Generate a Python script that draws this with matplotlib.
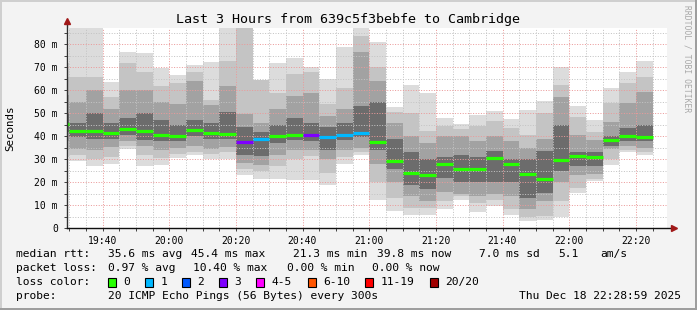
import matplotlib
matplotlib.use("Agg")
import matplotlib.pyplot as plt
from matplotlib.patches import Rectangle
from matplotlib.lines import Line2D
from matplotlib.ticker import MultipleLocator
import numpy as np

# ---------------- data ----------------
slot_start = ["19:25", "19:30", "19:35", "19:40", "19:45", "19:50", "19:55",
              "20:00", "20:05", "20:10", "20:15", "20:20", "20:25", "20:30",
              "20:35", "20:40", "20:45", "20:50", "20:55", "21:00", "21:05",
              "21:10", "21:15", "21:20", "21:25", "21:30", "21:35", "21:40",
              "21:45", "21:50", "21:55", "22:00", "22:05", "22:10", "22:15",
              "22:20"]

# smoke envelope (ms): outermost -> innermost above and below the median
ping_max = [72, 90, 90, 63.6, 76.6, 76.2, 69.6, 66.5, 71, 72.3, 90, 90, 64.6, 71.9,
            74.2, 70.3, 65.0, 78.7, 90, 80.9, 52.7, 62.3, 58.7, 48.1, 45.2, 49.3,
            51.2, 47.5, 51.4, 55.3, 70, 53.2, 47.1, 60.9, 68.1, 72.7]
ping_hi3 = [66, 66, 66, 57, 72, 68, 62, 63, 68, 56, 72.7, 90, 64.6, 59,
            67, 68, 54, 61, 83.5, 70.3, 50.6, 50, 42.3, 44.5, 43, 44.5,
            46.7, 43.8, 40.4, 50, 62.3, 48.5, 42, 54.6, 63, 66]
ping_hi2 = [58, 55, 60, 52, 60, 60, 55, 54, 64, 53.5, 62, 49.6, 46, 52,
            57.5, 59, 49, 52, 76.8, 64, 46, 40, 37, 40, 40, 38,
            40, 38, 35, 38.7, 57.2, 40.6, 38.4, 46.4, 54.3, 59.4]
ping_hi1 = [50, 46, 50, 46, 48, 50, 47, 45, 47, 46, 50.6, 44, 42, 45,
            48, 46, 44, 46, 53, 55, 39, 33, 30, 31, 32, 31,
            33.5, 30, 30, 33.5, 45, 33, 33.3, 40, 43.5, 45]
median_rtt = [45.4, 42.2, 42.4, 41.3, 43.2, 42.4, 40.7, 40.1, 42.7, 41.3, 40.9, 37.7,
              38.7, 40.3, 40.7, 40.4, 39.6, 40.7, 41.5, 37.4, 29.4, 24.2, 23.0, 28.1,
              25.9, 25.6, 30.4, 28.0, 23.7, 21.3, 29.7, 31.4, 31.1, 38.4, 40.3, 39.8]
ping_lo1 = [42, 39.5, 39, 39, 40.5, 38.5, 38, 38, 40, 39, 39, 32, 31.5, 37,
            38.5, 38, 34, 38.5, 39.5, 34, 26, 19, 17, 22, 20, 20,
            20, 20, 13, 15.5, 25, 27, 27, 36, 38, 38]
ping_lo2 = [38, 34.5, 34, 35.5, 38, 36, 34, 35, 36, 34.5, 35.5, 28.5, 27.5, 32,
            34, 34, 30, 34, 35, 28, 20, 14, 12, 16, 15, 14,
            15, 14, 8.5, 12, 20, 23, 23.5, 34.5, 36, 35]
ping_lo3 = [34, 31.7, 30, 31, 36, 32, 30.5, 32.5, 33, 32.5, 33, 26, 25, 27,
            30, 31.5, 24, 31, 33, 20, 13, 9, 9, 12, 14, 11,
            12.5, 8.5, 5, 5.5, 12, 17.5, 21.5, 30, 34, 33]
ping_min = [31, 29.3, 27.2, 28.0, 34.3, 27.2, 27.5, 30.7, 31.9, 30.1, 30.0, 23.2, 21.4,
            21.4, 21.0, 21.0, 18.8, 28.0, 31.9, 12.3, 7.7, 5.8, 5.8, 8.5, 12.3, 7.0,
            9.7, 6.0, 3.0, 3.4, 5.0, 15.2, 20.6, 27.5, 33.3, 31.9]

# lost pings per slot (index into loss legend)
loss_class = [0, 0, 0, 0, 0, 0, 0, 0, 0, 0, 0, 3, 1, 0, 0, 3, 1, 1, 1, 0,
              0, 0, 0, 0, 0, 0, 0, 0, 0, 0, 0, 0, 0, 0, 0, 0]

loss_labels = ["0", "1", "2", "3", "4-5", "6-10", "11-19", "20/20"]
loss_colors = ["#26ff00", "#00b8ff", "#0059ff", "#7e00ff", "#ff00ff",
               "#ff5500", "#ff0000", "#a10000"]

x_tick_labels = ["19:40", "20:00", "20:20", "20:40", "21:00", "21:20",
                 "21:40", "22:00", "22:20"]
y_tick_values = [0, 10, 20, 30, 40, 50, 60, 70, 80]
y_tick_labels = ["0", "10 m", "20 m", "30 m", "40 m", "50 m", "60 m", "70 m", "80 m"]

title = "Last 3 Hours from 639c5f3bebfe to Cambridge"

# ---------------- helpers ----------------
W, H = 697, 310
MONO = "DejaVu Sans Mono"


def fx(px):
    return px / W


def fy(py):
    return 1 - py / H


def to_min(t):
    h, m = t.split(":")
    return (int(h) - 19) * 60 + int(m)


starts = np.array([to_min(t) for t in slot_start], dtype=float)
SLOT = 5.0

fig = plt.figure(figsize=(W / 100, H / 100), dpi=100)
fig.patch.set_facecolor("#f3f3f3")

ax = fig.add_axes([fx(67), fy(228.3), 600 / W, (228.3 - 28) / H])
ax.set_facecolor("white")
x0 = 29.35
ax.set_xlim(x0, x0 + 180)
ax.set_ylim(0, 87.1)

# smoke bands
shades = ["#dcdcdc", "#c4c4c4", "#a2a2a2", "#6c6c6c"]
bands = [
    (ping_hi3, ping_max, shades[0]), (ping_min, ping_lo3, shades[0]),
    (ping_hi2, ping_hi3, shades[1]), (ping_lo3, ping_lo2, shades[1]),
    (ping_hi1, ping_hi2, shades[2]), (ping_lo2, ping_lo1, shades[2]),
    (ping_lo1, ping_hi1, shades[3]),
]
for lo, hi, c in bands:
    lo = np.array(lo, float)
    hi = np.array(hi, float)
    ax.bar(starts, hi - lo, bottom=lo, width=SLOT, align="edge",
           color=c, linewidth=0, zorder=1)

# median line coloured by loss
med_cols = [loss_colors[i] for i in loss_class]
ax.hlines(median_rtt, starts, starts + SLOT, colors=med_cols,
          linewidth=2.3, zorder=4)

# grid
ax.yaxis.set_major_locator(MultipleLocator(10))
ax.yaxis.set_minor_locator(MultipleLocator(5))
ax.xaxis.set_minor_locator(MultipleLocator(5))
ax.set_xticks([to_min(t) for t in x_tick_labels])
ax.set_xticklabels(x_tick_labels)
ax.set_yticks(y_tick_values)
ax.set_yticklabels(y_tick_labels)
ax.set_axisbelow(False)
ax.grid(which="minor", color="#c4c4c4", linestyle=(0, (1, 1.6)), linewidth=0.72)
ax.grid(which="major", color="#eb9a9a", linestyle=(0, (1, 1.6)), linewidth=0.72)

for lab in ax.get_xticklabels() + ax.get_yticklabels():
    lab.set_fontfamily(MONO)
    lab.set_fontsize(7)
ax.tick_params(axis="both", which="both", length=2.5, width=0.7, color="#404040",
               direction="out")
ax.tick_params(axis="x", pad=3)
ax.tick_params(axis="y", pad=4)

for s in ax.spines.values():
    s.set_visible(False)

# axis lines with arrows
ax.add_line(Line2D([0, 0], [0, 1.02], transform=ax.transAxes, color="#303030",
                   linewidth=1.0, clip_on=False, zorder=5))
ax.add_line(Line2D([0, 1.008], [0, 0], transform=ax.transAxes, color="#101010",
                   linewidth=1.0, clip_on=False, zorder=5))
ax.plot([0], [1.035], marker="^", markersize=4.5, color="#a01818",
        transform=ax.transAxes, clip_on=False, zorder=6)
ax.plot([1.012], [0], marker=">", markersize=4.5, color="#a01818",
        transform=ax.transAxes, clip_on=False, zorder=6)

# title and labels
fig.text(fx(348.5), fy(19), title, family=MONO, fontsize=9.6, ha="center", va="center")
fig.text(fx(10.5), fy(128), "Seconds", family=MONO, fontsize=7.8, rotation=90,
         ha="center", va="center")
fig.text(fx(687), fy(59), "RRDTOOL / TOBI OETIKER", family=MONO, fontsize=5.8,
         rotation=270, ha="center", va="center", color="#a8a8a8")

# legend
LS = 8.1
rows = [
    (254, [(16, "median rtt:"), (107.6, "35.6 ms avg"), (191, "45.4 ms max"),
           (293, "21.3 ms min"), (377, "39.8 ms now"), (479, "7.0 ms sd"),
           (558, "5.1"), (600, "am/s")]),
    (268, [(16, "packet loss:"), (107.6, "0.97 % avg"), (193, "10.40 % max"),
           (287, "0.00 % min"), (372, "0.00 % now")]),
    (282, [(16, "loss color:")]),
    (296, [(16, "probe:"), (107.6, "20 ICMP Echo Pings (56 Bytes) every 300s")]),
]
for y, items in rows:
    for x, s in items:
        fig.text(fx(x), fy(y), s, family=MONO, fontsize=LS, ha="left", va="center")
fig.text(fx(681), fy(296), "Thu Dec 18 22:28:59 2025", family=MONO, fontsize=LS,
         ha="right", va="center")

box_x = [108, 145.3, 182, 219, 256.4, 307.6, 365, 430]
for bx, lab, col in zip(box_x, loss_labels, loss_colors):
    fig.add_artist(Rectangle((fx(bx), fy(282 + 4.5)), 8 / W, 9 / H,
                             transform=fig.transFigure, facecolor=col,
                             edgecolor="black", linewidth=0.8))
    fig.text(fx(bx + 15.5), fy(282), lab, family=MONO, fontsize=LS,
             ha="left", va="center")

# frame shading
fig.add_artist(Rectangle((0, 1 - 2 / H), 1, 2 / H, transform=fig.transFigure,
                         facecolor="#cfcfcf", edgecolor="none"))
fig.add_artist(Rectangle((0, 0), 2 / W, 1, transform=fig.transFigure,
                         facecolor="#cfcfcf", edgecolor="none"))
fig.add_artist(Rectangle((0, 0), 1, 2 / H, transform=fig.transFigure,
                         facecolor="#9e9e9e", edgecolor="none"))
fig.add_artist(Rectangle((1 - 2 / W, 0), 2 / W, 1, transform=fig.transFigure,
                         facecolor="#9e9e9e", edgecolor="none"))

fig.savefig("out.png", dpi=100, facecolor=fig.get_facecolor())
